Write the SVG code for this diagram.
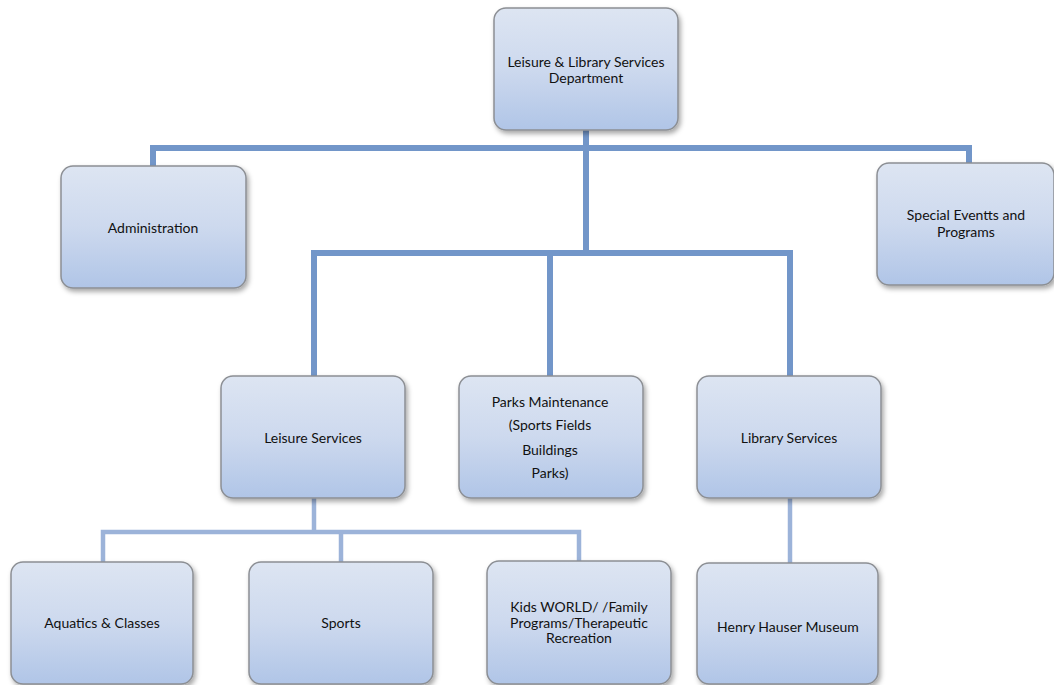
<svg xmlns="http://www.w3.org/2000/svg" width="1054" height="685" viewBox="0 0 1054 685">
  <defs>
    <linearGradient id="boxFill" x1="0" y1="0" x2="0" y2="1">
      <stop offset="0" stop-color="#dde5f2"/>
      <stop offset="0.5" stop-color="#cdd9ee"/>
      <stop offset="1" stop-color="#b0c5e7"/>
    </linearGradient>
    <filter id="shadow" x="-10%" y="-10%" width="125%" height="130%">
      <feDropShadow dx="2" dy="3" stdDeviation="2.5" flood-color="#000" flood-opacity="0.35"/>
    </filter>
  </defs>
  <style>
    .box { fill: url(#boxFill); stroke: #8c8f94; stroke-width: 1.5; filter: url(#shadow); }
    .lbl { font-family: Lato, "Open Sans", "Liberation Sans", sans-serif; font-size: 14px; fill: #111; text-anchor: middle; }
    .main { fill: none; stroke: #7296c9; stroke-width: 6; }
    .sub { fill: none; stroke: #9cb3d9; stroke-width: 4.5; }
  </style>
  <rect width="1054" height="685" fill="#ffffff"/>

  <g id="connectors">
    <path class="main" d="M586 130 V253"/>
    <path class="main" d="M153 166 V148 H969 V163"/>
    <path class="main" d="M314 376 V253 H790 V376"/>
    <path class="main" d="M550 253 V376"/>
    <path class="sub" d="M314 498 V532"/>
    <path class="sub" d="M103 563 V532 H579 V562"/>
    <path class="sub" d="M341 532 V562"/>
    <path class="sub" d="M790 498 V564"/>
  </g>

  <g id="node-dept">
    <rect class="box" x="494" y="8" width="184" height="122" rx="12"/>
    <text class="lbl" x="586" y="67">Leisure &amp; Library Services</text>
    <text class="lbl" x="586" y="83">Department</text>
  </g>
  <g id="node-admin">
    <rect class="box" x="61" y="166" width="185" height="122" rx="12"/>
    <text class="lbl" x="153" y="233">Administration</text>
  </g>
  <g id="node-special">
    <rect class="box" x="877" y="163" width="177" height="122" rx="12"/>
    <text class="lbl" x="966" y="220">Special Eventts and</text>
    <text class="lbl" x="966" y="237">Programs</text>
  </g>
  <g id="node-leisure">
    <rect class="box" x="221" y="376" width="184" height="122" rx="12"/>
    <text class="lbl" x="313" y="443">Leisure Services</text>
  </g>
  <g id="node-parks">
    <rect class="box" x="459" y="376" width="184" height="122" rx="12"/>
    <text class="lbl" x="550" y="407">Parks Maintenance</text>
    <text class="lbl" x="550" y="430">(Sports Fields</text>
    <text class="lbl" x="550" y="455">Buildings</text>
    <text class="lbl" x="550" y="478">Parks)</text>
  </g>
  <g id="node-library">
    <rect class="box" x="697" y="376" width="184" height="122" rx="12"/>
    <text class="lbl" x="789" y="443">Library Services</text>
  </g>
  <g id="node-aquatics">
    <rect class="box" x="11" y="562" width="182" height="122" rx="12"/>
    <text class="lbl" x="102" y="628">Aquatics &amp; Classes</text>
  </g>
  <g id="node-sports">
    <rect class="box" x="249" y="562" width="184" height="122" rx="12"/>
    <text class="lbl" x="341" y="628">Sports</text>
  </g>
  <g id="node-kids">
    <rect class="box" x="487" y="561" width="184" height="123" rx="12"/>
    <text class="lbl" x="579" y="612">Kids WORLD/ /Family</text>
    <text class="lbl" x="579" y="628">Programs/Therapeutic</text>
    <text class="lbl" x="579" y="643">Recreation</text>
  </g>
  <g id="node-museum">
    <rect class="box" x="697" y="563" width="181" height="121" rx="12"/>
    <text class="lbl" x="788" y="632">Henry Hauser Museum</text>
  </g>
</svg>
